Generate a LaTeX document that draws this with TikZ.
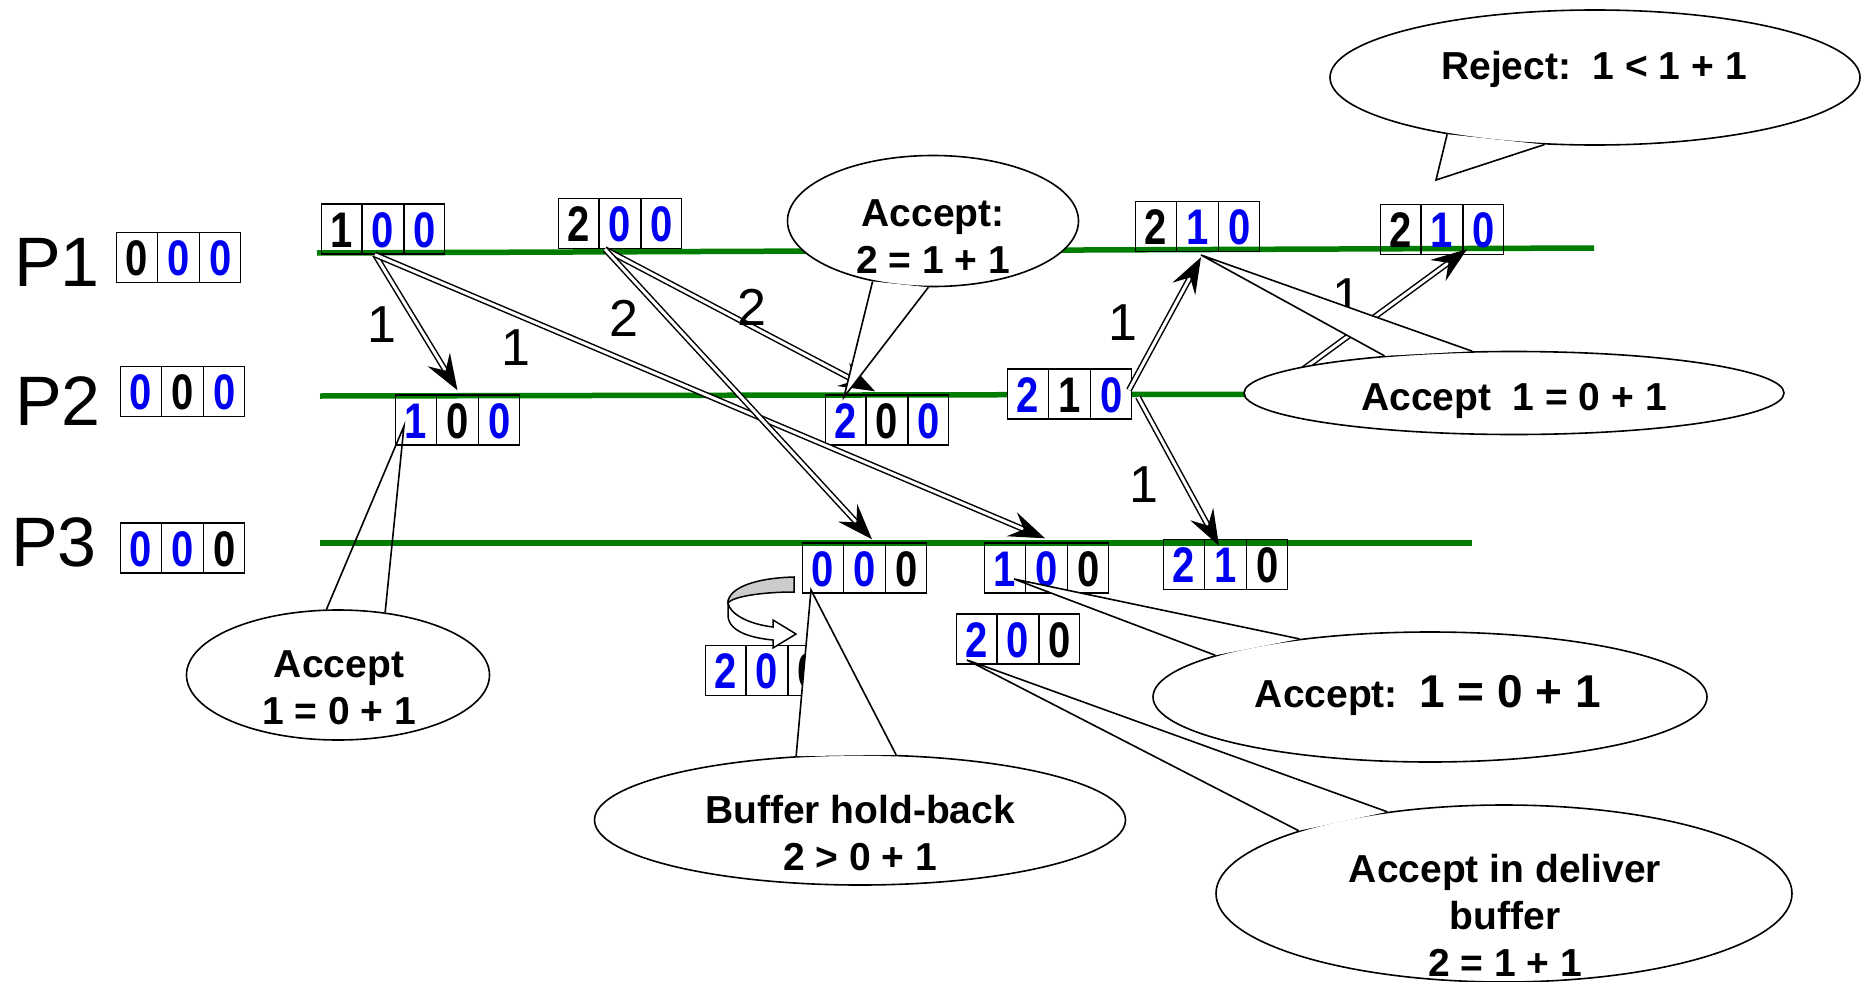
\documentclass[tikz,border=0pt]{standalone}
\usepackage{fontspec}
\setmainfont{Liberation Sans}
\newfontfamily\clockfont[FakeStretch=0.8]{Liberation Sans}
\usetikzlibrary{positioning, shapes.geometric, shapes.multipart, arrows.meta}
\definecolor{vecblue}{RGB}{0,0,240}
\definecolor{linegreen}{RGB}{0,125,0}
\newcommand{\blu}[1]{\textcolor{vecblue}{\rule[-7pt]{0pt}{50pt}#1}}
\newcommand{\blk}[1]{{\rule[-7pt]{0pt}{50pt}#1}}
\tikzset{
    clock/.style={rectangle split, rectangle split horizontal, rectangle split parts=3, draw, line width=1.4pt, inner xsep=9pt, inner ysep=0pt, font=\clockfont\bfseries\fontsize{50}{50}\selectfont},
    proc/.style={font=\fontsize{70}{70}\selectfont, inner sep=0pt},
    tick/.style={font=\fontsize{52}{52}\selectfont, inner sep=0pt},
    timeline/.style={draw=linegreen, line width=5.5pt},
    msg/.style={double, double distance=3pt, line width=1.5pt, -{Stealth[length=36pt, width=26pt, inset=13pt]}},
    bubble/.style={ellipse, draw, fill=white, line width=1.6pt, inner sep=0pt},
    bubbletext/.style={font=\bfseries\fontsize{39}{47}\selectfont, align=center, inner sep=0pt},
    tailline/.style={draw, line width=1.6pt, line join=miter},
}
\begin{document}
\begin{tikzpicture}[x=1pt, y=-1pt]
    \useasboundingbox (0,0) rectangle (1866,982);
    % time lines
    \draw[timeline] (317,253) -- (1594,248);
    \draw[timeline] (320,396) -- (1400,394);
    \draw[timeline] (320,543) -- (1472,543);

    \node[proc] (p1) at (57,262) {P1};
    \node[proc] (p2) at (58,401) {P2};
    \node[proc] (p3) at (54,542) {P3};

    % vector clocks
    \node[clock] (i1) at (178.5,257.5) {\blk{0}\nodepart{two}\blu{0}\nodepart{three}\blu{0}};
    \node[clock] (i2) at (182.5,391.5) {\blu{0}\nodepart{two}\blk{0}\nodepart{three}\blu{0}};
    \node[clock] (i3) at (182.5,548) {\blu{0}\nodepart{two}\blu{0}\nodepart{three}\blk{0}};
    \node[clock] (a1) at (383,229) {\blk{1}\nodepart{two}\blu{0}\nodepart{three}\blu{0}};
    \node[clock] (a2) at (620,223.5) {\blk{2}\nodepart{two}\blu{0}\nodepart{three}\blu{0}};
    \node[clock] (a3) at (1197.5,226.5) {\blk{2}\nodepart{two}\blu{1}\nodepart{three}\blu{0}};
    \node[clock] (a4) at (1442,229.5) {\blk{2}\nodepart{two}\blu{1}\nodepart{three}\blu{0}};
    \node[clock] (b1) at (457.5,420) {\blu{1}\nodepart{two}\blk{0}\nodepart{three}\blu{0}};
    \node[clock] (b2) at (887,420) {\blu{2}\nodepart{two}\blk{0}\nodepart{three}\blu{0}};
    \node[clock, fill=white] (b3) at (1069.5,394) {\blu{2}\nodepart{two}\blk{1}\nodepart{three}\blu{0}};
    \node[clock] (c1) at (864.5,568) {\blu{0}\nodepart{two}\blu{0}\nodepart{three}\blk{0}};
    \node[clock] (c2) at (1046.5,568) {\blu{1}\nodepart{two}\blu{0}\nodepart{three}\blk{0}};
    \node[clock] (c3) at (1225.5,564.5) {\blu{2}\nodepart{two}\blu{1}\nodepart{three}\blk{0}};
    \node[clock] (d1) at (1018,639) {\blu{2}\nodepart{two}\blu{0}\nodepart{three}\blk{0}};
    \node[clock] (d2) at (767,670.5) {\blu{2}\nodepart{two}\blu{0}\nodepart{three}\blk{0}};

    % messages
    \coordinate (m7) at (1272,392);
    \draw[msg] ([xshift=-8pt]a1.south) -- ([yshift=4pt]b1.north);
    \draw[msg] ([xshift=-8pt]a1.south) -- ([xshift=-1.5pt,yshift=4pt]c2.north);
    \draw[msg] ([xshift=-15pt]a2.south) -- ([xshift=-12pt,yshift=3pt]b2.north);
    \draw[msg] ([xshift=-15pt]a2.south) -- ([xshift=7.5pt,yshift=3pt]c1.north);
    \draw[msg] ([xshift=-3pt,yshift=4pt]b3.east) -- ([xshift=3.5pt,yshift=-5pt]a3.south);
    \draw[msg] ([xshift=6pt,yshift=-3pt]b3.east) -- ([xshift=-6.5pt,yshift=-7pt]c3.north);
    \draw[msg] (m7) -- ([xshift=25pt,yshift=6pt]a4.south);

    \node[tick] (t1) at (382,325) {1};
    \node[tick] (t2) at (516,348) {1};
    \node[tick] (t3) at (624,318) {2};
    \node[tick] (t4) at (752,307) {2};
    \node[tick] (t5) at (1123,323) {1};
    \node[tick] (t6) at (1144,485) {1};
    \node[tick] (t7) at (1347,297) {1};

    % hold-back turn
    \draw[line width=1.5pt, fill=gray!40] (794,577) .. controls (755,578) and (728,588) .. (728,603)
        .. controls (732,597) and (760,592) .. (794,592) -- cycle;
    \draw[line width=1.5pt, fill=white, line join=miter] (728,603) -- (728,616) .. controls (729,632) and (752,638) .. (773,640)
        -- (773,648) -- (796,634) -- (773,620) -- (773,627) .. controls (748,624) and (730,614) .. (728,603) -- cycle;

    % callouts
    \coordinate (tacc2) at (844,397);
    \coordinate (trej) at (1436,180);
    \coordinate (taccp2) at (1201,255);
    \coordinate (taccb) at (404,426);
    \coordinate (thold) at (811,590);
    \coordinate (taccp3) at (1014,579);
    \coordinate (tdlv) at (967,660);

    \node[bubble, minimum width=291pt, minimum height=131pt] (acc2) at (933,221) {};
    \fill[white] (tacc2) -- (acc2.225.5) -- (acc2.266.5) -- cycle;
    \draw[tailline] (acc2.225.5) -- (tacc2) -- (acc2.266.5);
    \node[bubbletext] (acc2t) at (933,237) {Accept:\\2 = 1 + 1};

    \node[bubble, minimum width=530pt, minimum height=135pt] (rej) at (1595,77.5) {};
    \fill[white] (trej) -- (rej.201.8) -- (rej.233.1) -- cycle;
    \draw[tailline] (rej.201.8) -- (trej) -- (rej.233.1);
    \node[bubbletext] (rejt) at (1594,69) {Reject:~~1 < 1 + 1};

    \node[bubble, minimum width=540pt, minimum height=83pt] (accp2) at (1514,393) {};
    \fill[white] (taccp2) -- (accp2.164.8) -- (accp2.135) -- cycle;
    \draw[tailline] (accp2.164.8) -- (taccp2) -- (accp2.135);
    \node[bubbletext] (accp2t) at (1514,401) {Accept~~1 = 0 + 1};

    \node[bubble, minimum width=303pt, minimum height=130pt] (accb) at (338,675) {};
    \draw[tailline] (accb.100.3) -- (taccb) -- (accb.53.3);
    \node[bubbletext] (accbt) at (339,688) {Accept\\1 = 0 + 1};

    \node[bubble, minimum width=531pt, minimum height=130pt] (hold) at (860,820) {};
    \fill[white] (thold) -- (hold.135) -- (hold.61) -- cycle;
    \draw[tailline] (hold.135) -- (thold) -- (hold.61);
    \node[bubbletext] (holdt) at (860,833) {Buffer hold-back\\2 > 0 + 1};

    \node[bubble, minimum width=554pt, minimum height=130pt] (accp3) at (1430,697) {};
    \fill[white] (taccp3) -- (accp3.169.3) -- (accp3.156.7) -- cycle;
    \draw[tailline] (accp3.169.3) -- (taccp3) -- (accp3.156.7);
    \node[bubbletext] (accp3t) at (1428,695) {Accept:~~{\fontsize{46}{47}\selectfont 1 = 0 + 1}};

    \node[bubble, minimum width=576pt, minimum height=177pt] (dlv) at (1504,893.5) {};
    \fill[white] (tdlv) -- (dlv.163.6) -- (dlv.145.5) -- cycle;
    \draw[tailline] (dlv.163.6) -- (tdlv) -- (dlv.145.5);
    \node[bubbletext] (dlvt) at (1505,915) {Accept in deliver\\buffer\\2 = 1 + 1};
\end{tikzpicture}
\end{document}
